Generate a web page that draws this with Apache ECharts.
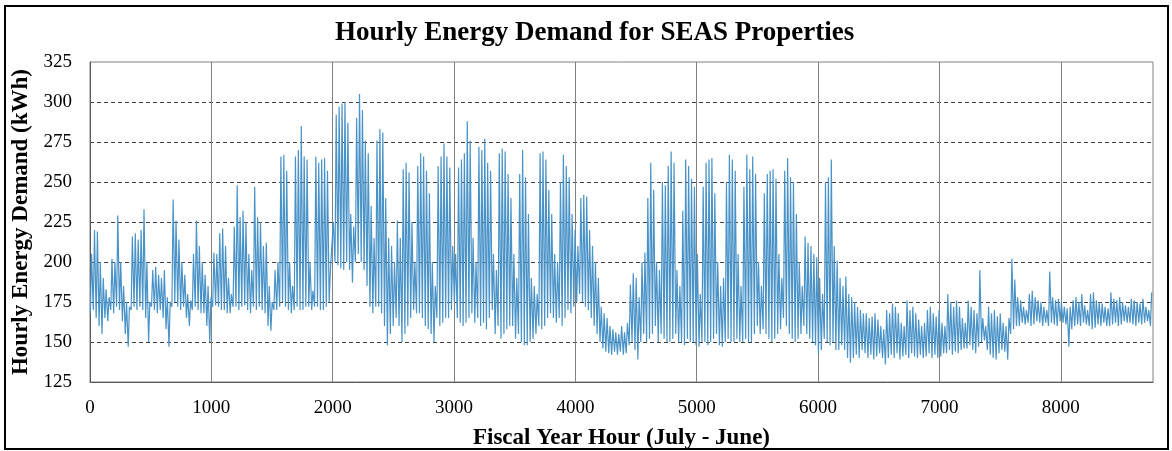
<!DOCTYPE html>
<html>
<head>
<meta charset="utf-8">
<title>Hourly Energy Demand for SEAS Properties</title>
<script src="https://cdn.jsdelivr.net/npm/echarts@6/dist/echarts.min.js"></script>
<style>
  html, body { margin: 0; padding: 0; background: #ffffff; }
  #chart { width: 1172px; height: 451px; }
</style>
</head>
<body>
<div id="chart"></div>
<script>
// Daily afternoon peak demand (kWh), one row per week, fiscal year starting in July
const dailyPeak = [
  205,220,219,200,190,183,178,
  202,200,229,200,185,175,172,
  216,218,214,220,233,200,175,
  195,197,192,190,195,178,175,
  239,226,214,200,192,180,176,
  205,226,210,200,192,185,178,
  206,205,218,221,210,190,180,
  222,248,228,232,225,205,195,
  247,228,225,210,212,185,175,
  195,200,266,267,257,200,185,
  266,270,285,266,264,200,182,
  266,262,264,265,257,195,225,
  292,297,299,300,287,230,222,
  290,305,295,276,268,235,215,
  276,283,281,240,215,210,200,
  226,215,258,262,256,225,200,
  260,268,266,257,243,200,185,
  260,266,274,266,259,210,205,
  259,264,268,288,276,215,200,
  272,270,277,262,257,205,195,
  268,271,269,255,240,205,190,
  255,270,253,230,190,185,180,
  268,269,264,245,230,205,200,
  250,267,260,253,230,220,210,
  240,242,241,220,210,200,190,
  172,168,165,160,158,156,155,
  160,156,162,186,193,190,178,
  200,206,240,262,245,200,195,
  250,248,260,269,262,195,185,
  232,264,260,252,247,205,180,
  247,262,264,265,243,200,185,
  190,250,267,264,257,205,185,
  247,267,258,266,255,200,185,
  243,255,257,258,252,205,190,
  257,265,253,250,230,200,185,
  216,212,210,205,203,190,180,
  250,253,264,210,201,190,185,
  191,180,178,175,172,170,168,
  168,165,166,168,164,160,158,
  170,168,174,172,168,162,160,
  176,170,172,168,164,160,162,
  170,172,168,166,170,162,160,
  180,175,172,176,172,165,162,
  176,172,170,168,195,165,160,
  172,168,170,166,168,162,160,
  165,202,189,178,176,172,170,
  180,182,178,176,175,172,170,
  194,178,176,177,175,172,171,
  172,176,178,175,180,173,170,
  180,181,176,175,174,172,171,
  181,177,176,178,175,173,172,
  177,176,175,174,177,172,170,
  181
];

// Daily overnight minimum demand (kWh), same layout as above
const dailyLow = [
  168,170,165,160,155,165,163,
  170,168,172,170,163,155,147,
  170,172,170,172,170,165,150,
  172,170,168,170,165,158,147,
  172,175,172,170,172,165,160,
  170,172,170,168,168,160,150,
  172,173,172,170,170,168,168,
  172,172,170,172,173,170,168,
  172,170,172,170,168,160,157,
  170,170,172,175,172,170,168,
  170,172,170,170,172,172,170,
  172,172,170,170,172,175,195,
  200,198,196,195,200,195,187,
  200,205,200,195,185,172,168,
  172,172,168,160,148,155,160,
  165,160,150,155,160,165,170,
  168,168,165,160,158,155,150,
  165,160,162,165,165,170,175,
  165,162,160,162,165,168,162,
  165,160,162,158,165,170,155,
  160,152,155,158,160,160,152,
  155,150,148,148,150,152,155,
  160,158,160,165,168,165,162,
  165,160,165,170,168,172,175,
  180,175,172,170,165,160,155,
  150,146,144,143,142,144,142,
  144,142,143,148,150,145,139,
  150,155,150,152,155,160,150,
  155,152,150,150,152,155,150,
  150,148,152,150,150,148,147,
  150,150,148,150,152,155,148,
  147,150,152,150,150,152,150,
  150,152,150,150,155,160,155,
  158,155,152,150,152,155,158,
  165,160,155,152,150,152,155,
  160,155,152,150,148,143,145,
  152,150,148,150,145,145,148,
  145,140,137,140,142,140,145,
  143,140,142,139,141,143,140,
  136,140,142,140,143,139,141,
  142,140,143,141,140,142,140,
  141,143,140,142,140,141,143,
  143,145,142,144,143,145,146,
  146,148,145,143,147,150,151,
  145,142,140,139,143,145,144,
  139,155,158,160,160,162,161,
  162,160,161,163,162,160,162,
  160,162,161,160,163,162,161,
  147,158,160,161,160,162,161,
  160,158,159,161,160,162,160,
  160,161,162,160,161,163,162,
  162,161,160,162,161,162,163,
  160
];

const yTicks = [125, 150, 175, 200, 225, 250, 275, 300, 325];
const xTicks = [0, 1000, 2000, 3000, 4000, 5000, 6000, 7000, 8000];

// Hourly series: each day contributes its overnight low and its afternoon peak
const demand = [];
for (let d = 0; d < dailyPeak.length; d++) {
  demand.push([d * 24 + 3, dailyLow[d]]);
  demand.push([d * 24 + 13, dailyPeak[d]]);
}

const serif = '"Liberation Serif", "Times New Roman", serif';
const chart = echarts.init(document.getElementById('chart'), null, { renderer: 'canvas' });

chart.setOption({
  animation: false,
  backgroundColor: '#ffffff',
  title: {
    text: 'Hourly Energy Demand for SEAS Properties',
    left: 330,
    top: 15,
    textStyle: { fontFamily: serif, fontSize: 27, fontWeight: 'bold', color: '#000' }
  },
  graphic: [{
    type: 'rect',
    shape: { x: 5, y: 6, width: 1163, height: 443 },
    style: { fill: 'none', stroke: '#000', lineWidth: 2 },
    z: 100
  }],
  grid: {
    left: 90, right: 19, top: 62, bottom: 69,
    outerBoundsMode: 'none',
    containLabel: false,
    show: true, borderColor: '#808080', borderWidth: 1
  },
  xAxis: {
    type: 'value',
    min: xTicks[0],
    max: 8760,
    interval: 1000,
    name: 'Fiscal Year Hour (July - June)',
    nameLocation: 'middle',
    nameGap: 45,
    nameTextStyle: { fontFamily: serif, fontSize: 23, fontWeight: 'bold', color: '#000' },
    axisLine: { show: true, lineStyle: { color: '#595959', width: 1 } },
    axisTick: { show: false },
    axisLabel: {
      fontFamily: serif, fontSize: 19, color: '#000', margin: 17,
      showMaxLabel: false,
      formatter: v => (xTicks.indexOf(v) >= 0 ? String(v) : '')
    },
    splitLine: {
      show: true, showMinLine: false, showMaxLine: false,
      lineStyle: { color: '#808080', width: 1, type: 'solid' }
    }
  },
  yAxis: {
    type: 'value',
    min: yTicks[0],
    max: yTicks[yTicks.length - 1],
    interval: 25,
    name: 'Hourly Energy Demand (kWh)',
    nameLocation: 'middle',
    nameGap: 46,
    nameTextStyle: { fontFamily: serif, fontSize: 23, fontWeight: 'bold', color: '#000' },
    axisLine: { show: true, lineStyle: { color: '#595959', width: 1 } },
    axisTick: { show: false },
    axisLabel: { fontFamily: serif, fontSize: 19, color: '#000', margin: 18 },
    splitLine: {
      show: true, showMinLine: false, showMaxLine: false,
      lineStyle: { color: '#404040', width: 1, type: [4, 3] }
    }
  },
  series: [{
    type: 'line',
    data: demand,
    showSymbol: false,
    symbol: 'none',
    sampling: null,
    lineStyle: { color: '#4a93c8', width: 1.2 },
    z: 3
  }]
});
</script>
</body>
</html>
